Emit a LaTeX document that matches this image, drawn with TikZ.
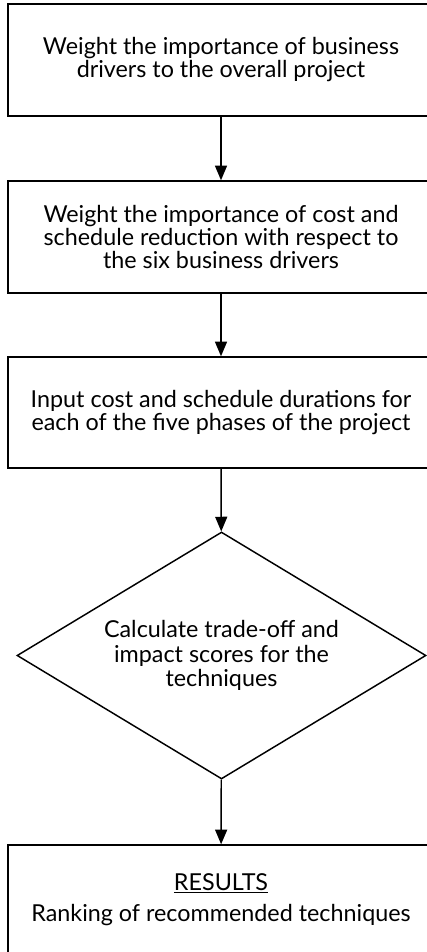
\documentclass[tikz,border=0pt]{standalone}
\usepackage{fontspec}
\setmainfont{Lato}
\usetikzlibrary{positioning}
\usetikzlibrary{shapes.geometric}
\usetikzlibrary{arrows.meta}

\begin{document}
\begin{tikzpicture}[x=0.75pt, y=-0.75pt,
    stagebox/.style={draw, line width=1.1pt, rectangle, align=center,
        minimum width=319.5pt, font=\fontsize{17.5}{17.2}\selectfont},
    calcdiamond/.style={draw, line width=1.1pt, diamond, align=center,
        aspect=1.65, inner sep=0pt, minimum width=306.75pt, minimum height=185.25pt,
        font=\fontsize{17.5}{18.4}\selectfont},
    flowarrow/.style={line width=1.1pt, -{Triangle[length=11pt,width=9pt]}}]

\useasboundingbox (0,0) rectangle (427,952);
\clip (0,0) rectangle (427,952);

% boxes
{
\node[stagebox, minimum height=84pt] (drivers) at (221,60)
{Weight the importance of business\\drivers to the overall project};

\node[stagebox, minimum height=84pt] (reduction) at (221,237)
{Weight the importance of cost and\\schedule reduction with respect to\\the six business drivers};

\node[stagebox, minimum height=83.25pt] (durations) at (221,412.5)
{Input cost and schedule durations for\\each of the five phases of the project};

\node[calcdiamond] (scores) at (221.5,655.5)
{Calculate trade-off and\\impact scores for the\\techniques};

\node[stagebox, minimum height=81.75pt] (results) at (221,899.5)
{\underline{RESULTS}\\[6pt]Ranking of recommended techniques};
}

% arrows
{
\draw[flowarrow] (drivers) -- (reduction);
\draw[flowarrow] (reduction) -- (durations);
\draw[flowarrow] (durations) -- (scores);
\draw[flowarrow] (scores) -- (results);
}

\end{tikzpicture}
\end{document}
